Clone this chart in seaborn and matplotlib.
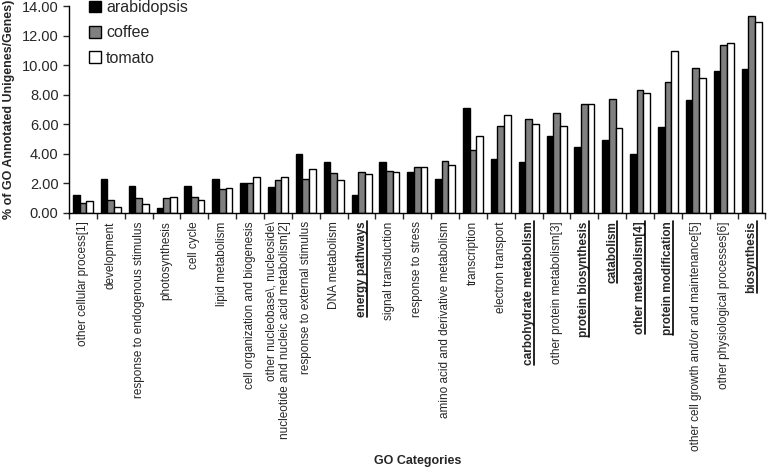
import pandas as pd
import seaborn as sns
import matplotlib.pyplot as plt
import matplotlib.ticker as mticker
from matplotlib.lines import Line2D

# GO categories (the underlined bold ones are listed in bold_cats)
categories = [
    "other cellular process[1]", "development", "response to endogenous stimulus",
    "photosynthesis", "cell cycle", "lipid metabolism",
    "cell organization and biogenesis",
    "other nucleobase\\, nucleoside\\\nnucleotide and nucleic acid metabolism[2]",
    "response to external stimulus", "DNA metabolism", "energy pathways",
    "signal transduction", "response to stress",
    "amino acid and derivative metabolism", "transcription", "electron transport",
    "carbohydrate metabolism", "other protein metabolism[3]", "protein biosynthesis",
    "catabolism", "other metabolism[4]", "protein modification",
    "other cell growth and/or and maintenance[5]",
    "other physiological processes[6]", "biosynthesis",
]
bold_cats = {"energy pathways", "carbohydrate metabolism", "protein biosynthesis",
             "catabolism", "other metabolism[4]", "protein modification", "biosynthesis"}

arabidopsis = [1.20, 2.30, 1.85, 0.35, 1.85, 2.30, 2.00, 1.75, 4.00, 3.45, 1.20, 3.45, 2.80,
               2.30, 7.10, 3.65, 3.45, 5.20, 4.46, 4.95, 4.00, 5.83, 7.65, 9.60, 9.73]
coffee = [0.70, 0.90, 1.00, 1.00, 1.05, 1.60, 2.00, 2.25, 2.30, 2.70, 2.78, 2.85, 3.10,
          3.50, 4.27, 5.90, 6.36, 6.75, 7.40, 7.70, 8.30, 8.85, 9.80, 11.35, 13.30]
tomato = [0.80, 0.40, 0.60, 1.05, 0.90, 1.70, 2.45, 2.40, 2.97, 2.23, 2.63, 2.80, 3.10,
          3.27, 5.20, 6.60, 6.00, 5.90, 7.40, 5.75, 8.10, 10.95, 9.15, 11.50, 12.95]

species = ["arabidopsis", "coffee", "tomato"]
colors = ["black", "#808080", "white"]

rows = []
for sp, vals in zip(species, [arabidopsis, coffee, tomato]):
    for cat, v in zip(categories, vals):
        rows.append({"category": cat, "species": sp, "value": v})
df = pd.DataFrame(rows)

sns.set_style("white")
plt.rcParams['font.family'] = ['Liberation Sans', 'DejaVu Sans']

fig = plt.figure(figsize=(7.67, 4.69), dpi=100)
ax = fig.add_axes([0.09, 0.546, 0.908, 0.441])

sns.barplot(data=df, x="category", y="value", hue="species", hue_order=species,
            order=categories, palette=colors, width=0.72, gap=0,
            edgecolor="black", linewidth=1.0, ax=ax, legend=True)

ax.set_ylim(0, 14)
ax.set_xlim(-0.5, len(categories) - 0.5)
ax.yaxis.set_major_locator(mticker.MultipleLocator(2))
ax.yaxis.set_major_formatter(mticker.FormatStrFormatter("%.2f"))
ax.tick_params(axis="y", labelsize=10.5, length=4, width=1, direction="out", left=True)

ax.set_xticks(range(len(categories)))
ax.set_xticklabels(categories, rotation=90, fontsize=8.5, va="top", ha="center",
                   multialignment="right")
for t in ax.get_xticklabels():
    if t.get_text() in bold_cats:
        t.set_fontweight("bold")
ax.tick_params(axis="x", which="major", length=0, pad=6)
# category boundaries get the ticks
ax.set_xticks([i - 0.5 for i in range(len(categories) + 1)], minor=True)
ax.tick_params(axis="x", which="minor", length=4, width=1, direction="out", bottom=True)

for s in ["top", "right"]:
    ax.spines[s].set_visible(False)
for s in ["left", "bottom"]:
    ax.spines[s].set_color("black")
    ax.spines[s].set_linewidth(1)

ax.set_xlabel("GO Categories", fontsize=9, fontweight="bold")
ax.xaxis.set_label_coords(0.5, -1.17)
ax.set_ylabel("% of GO Annotated Unigenes/Genes)", fontsize=9, fontweight="bold")
ax.yaxis.set_label_coords(-0.077, 0.5)

leg = ax.legend(loc="upper left", bbox_to_anchor=(0.02, 1.06), frameon=False,
                fontsize=11.5, handlelength=0.75, handleheight=0.75, handletextpad=0.3,
                labelspacing=0.65, borderaxespad=0)
for h in leg.legend_handles:
    h.set_edgecolor("black")
    h.set_linewidth(1)

# underline the bold labels (rotated text: underline sits on the right side)
fig.canvas.draw()
inv = fig.transFigure.inverted()
for t in ax.get_xticklabels():
    if t.get_text() in bold_cats:
        bb = t.get_window_extent().transformed(inv)
        x = bb.x1 - 1.0 / 767
        fig.add_artist(Line2D([x, x], [bb.y0, bb.y1], color="black", lw=1.2,
                              transform=fig.transFigure))

fig.savefig("out.png", dpi=100)
